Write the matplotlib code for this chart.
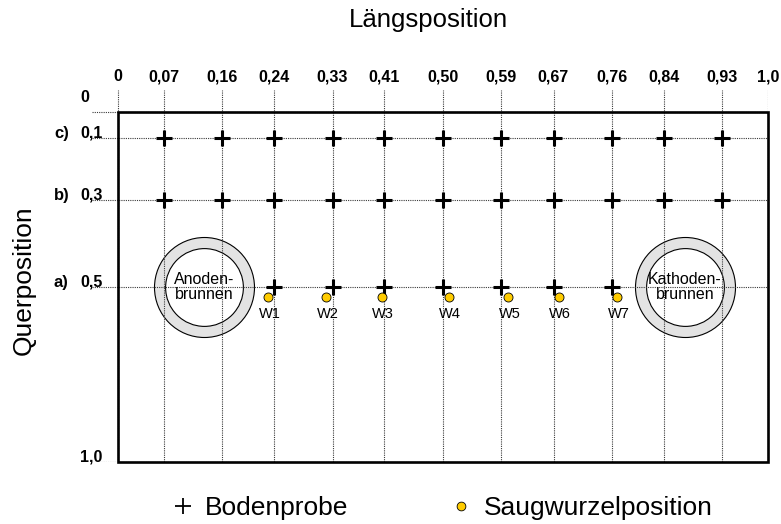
import numpy as np
import matplotlib
matplotlib.use("Agg")
import matplotlib.pyplot as plt
from matplotlib.patches import Rectangle
from matplotlib.lines import Line2D

plt.rcParams['font.family'] = ['Liberation Sans', 'DejaVu Sans']

# ---- data ----
x_ticks = [0.0, 0.07, 0.16, 0.24, 0.33, 0.41, 0.50, 0.59, 0.67, 0.76, 0.84, 0.93, 1.0]
x_labels = ["0", "0,07", "0,16", "0,24", "0,33", "0,41", "0,50", "0,59", "0,67",
            "0,76", "0,84", "0,93", "1,0"]
y_ticks = [0.0, 0.1, 0.3, 0.5, 1.0]
y_labels = ["0", "0,1", "0,3", "0,5", "1,0"]
row_letters = {0.1: "c)", 0.3: "b)", 0.5: "a)"}

probe_x_c = [0.07, 0.16, 0.24, 0.33, 0.41, 0.50, 0.59, 0.67, 0.76, 0.84, 0.93]
probe_x_b = [0.07, 0.16, 0.24, 0.33, 0.41, 0.50, 0.59, 0.67, 0.76, 0.84, 0.93]
probe_x_a = [0.24, 0.33, 0.41, 0.50, 0.59, 0.67, 0.76]
row_c, row_b, row_a = 0.1, 0.3, 0.5

root_x = [0.231, 0.32, 0.406, 0.509, 0.60, 0.678, 0.768]
root_y = 0.53
root_names = ["W1", "W2", "W3", "W4", "W5", "W6", "W7"]

wells_x = [0.132, 0.872]
wells_y = [0.5, 0.5]
wells_names = ["Anoden-\nbrunnen", "Kathoden-\nbrunnen"]

# ---- nonlinear (schematic) y scale ----
K = np.array([0.0, 0.1, 0.3, 0.5, 1.0])
U = np.array([0.0, 26.0, 88.0, 175.0, 350.0]) / 350.0
s0 = U[1] / K[1]

def fwd(v):
    v = np.asarray(v, dtype=float)
    out = np.interp(v, K, U)
    out = np.where(v < 0, v * s0, out)
    out = np.where(v > 1, 1 + (v - 1) * (U[4] - U[3]) / (K[4] - K[3]), out)
    return out

def inv(u):
    u = np.asarray(u, dtype=float)
    out = np.interp(u, U, K)
    out = np.where(u < 0, u / s0, out)
    out = np.where(u > 1, 1 + (u - 1) * (K[4] - K[3]) / (U[4] - U[3]), out)
    return out

W, H = 781, 524
fig = plt.figure(figsize=(W / 100, H / 100), dpi=100)
ax = fig.add_axes([92 / W, 1 - 462 / H, (768 - 92) / W, (462 - 90) / H])
ax.set_yscale('function', functions=(fwd, inv))
ax.set_xlim(-0.04, 1.0)
ax.set_ylim(1.0, -0.0846)

for sp in ax.spines.values():
    sp.set_visible(False)

ax.xaxis.tick_top()
ax.set_xticks(x_ticks, x_labels, fontsize=11.5, fontweight='bold')
ax.tick_params(axis='x', length=0, pad=4)
ax.set_yticks(y_ticks, [""] * len(y_ticks))
ax.tick_params(axis='y', length=0)
ax.grid(True, linestyle=(0, (1, 1)), linewidth=0.8, color='#3a3a3a')

ax.add_patch(Rectangle((0, 0), 1, 1, fill=False, lw=1.9, ec='black',
                       clip_on=False, zorder=3))

# y labels
for v, lab in zip(y_ticks, y_labels):
    dy = 7.2 if v == 0 else 0
    ax.annotate(lab, xy=(80 / W, v), xycoords=('figure fraction', 'data'),
                xytext=(0, dy), textcoords='offset points',
                ha='left', va='baseline', fontsize=11.5, fontweight='bold',
                annotation_clip=False)
for v, lab in row_letters.items():
    ax.annotate(lab, xy=(54 / W, v), xycoords=('figure fraction', 'data'),
                ha='left', va='baseline', fontsize=12, fontweight='bold',
                annotation_clip=False)

# wells
ax.plot(wells_x, wells_y, ls='none', marker='o', ms=72, mfc='#e3e3e3',
        mec='black', mew=0.8, zorder=1)
ax.plot(wells_x, wells_y, ls='none', marker='o', ms=56, mfc='white',
        mec='black', mew=0.8, zorder=1.1)
for x, y, t in zip(wells_x, wells_y, wells_names):
    ax.text(x, y, t, ha='center', va='center', fontsize=11.5,
            linespacing=1.05, zorder=4)

# soil samples
for xs, r in ((probe_x_c, row_c), (probe_x_b, row_b), (probe_x_a, row_a)):
    ax.plot(xs, [r] * len(xs), ls='none', marker='+', ms=11.5, mew=2.2,
            color='black', zorder=5)

# suction roots
ax.plot(root_x, [root_y] * len(root_x), ls='none', marker='o', ms=6.5,
        mfc='#ffcc00', mec='black', mew=0.6, zorder=6)
for x, t in zip(root_x, root_names):
    ax.annotate(t, xy=(x, root_y), xytext=(1, -6.5), textcoords='offset points',
                ha='center', va='top', fontsize=10.5, zorder=6)

fig.text(428 / W, 1 - 20 / H, "Längsposition", ha='center', va='center', fontsize=18.5)
fig.text(24 / W, 1 - 280 / H, "Querposition", ha='center', va='center',
         fontsize=19, rotation=90)

handles = [Line2D([], [], ls='none', marker='+', color='black', ms=12, mew=1.3),
           Line2D([], [], ls='none', marker='o', mfc='#ffcc00', mec='black',
                  ms=6.3, mew=0.6)]
fig.legend(handles, ["Bodenprobe", "Saugwurzelposition"], ncol=2,
           loc='center left', bbox_to_anchor=(169.8 / W, 1 - 508 / H),
           frameon=False, fontsize=19, handlelength=1.0, handletextpad=0.34,
           columnspacing=3.78, borderpad=0, borderaxespad=0)

fig.savefig("out.png", dpi=100)
